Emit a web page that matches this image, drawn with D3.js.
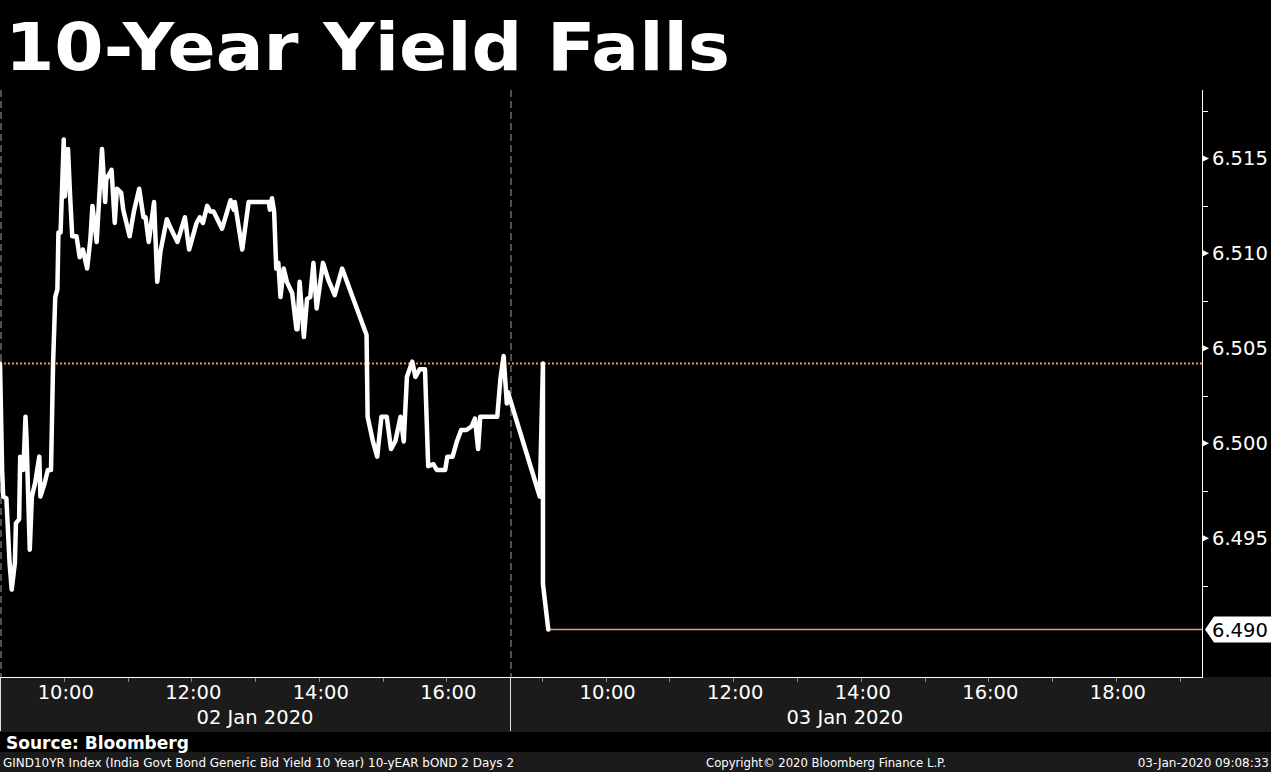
<!DOCTYPE html>
<html>
<head>
<meta charset="utf-8">
<script src="https://cdnjs.cloudflare.com/ajax/libs/d3/7.8.5/d3.min.js"></script>
<style>
  body { margin: 0; background: #000; }
  svg { display: block; }
</style>
</head>
<body>
<svg id="chart"></svg>
<script>
// GIND10YR intraday, 02-03 Jan 2020
const day1Times = ["09:00","09:02","09:03","09:06","09:09","09:11","09:14","09:15","09:18","09:19",
  "09:22","09:24","09:25","09:28","09:30","09:33","09:37","09:38","09:42","09:45",
  "09:48","09:50","09:52","09:54","09:55","09:57","10:00","10:01","10:04","10:06",
  "10:08","10:12","10:15","10:18","10:22","10:25","10:27","10:31","10:36","10:39",
  "10:40","10:45","10:48","10:50","10:54","10:56","11:02","11:06","11:11","11:15",
  "11:17","11:20","11:25","11:28","11:31","11:37","11:40","11:47","11:54","11:58",
  "12:05","12:08","12:11","12:15","12:18","12:21","12:29","12:37","12:40","12:41",
  "12:48","12:54","13:13","13:14","13:16","13:18","13:20","13:22","13:24","13:27",
  "13:30","13:35","13:39","13:40","13:42","13:46","13:49","13:52","13:55","13:58",
  "14:04","14:09","14:15","14:22","14:45","14:46","14:51","14:55","14:59","15:04",
  "15:08","15:12","15:17","15:20","15:23","15:28","15:31","15:35","15:40","15:43",
  "15:48","15:51","15:59","16:01","16:06","16:10","16:14","16:19","16:24","16:27",
  "16:30","16:32","16:48","16:51","16:54","16:57","16:58"];
const day1Yields = [6.5042,6.4986,6.4972,6.4971,6.4937,6.4923,6.4937,6.4958,6.4960,6.4993,
  6.4986,6.5014,6.5002,6.4944,6.4972,6.4979,6.4993,6.4972,6.4979,6.4986,
  6.4986,6.5043,6.5077,6.5081,6.5111,6.5111,6.5160,6.5130,6.5155,6.5130,
  6.5109,6.5109,6.5098,6.5102,6.5092,6.5107,6.5125,6.5106,6.5155,6.5127,
  6.5139,6.5144,6.5116,6.5134,6.5132,6.5123,6.5109,6.5122,6.5134,6.5119,
  6.5119,6.5106,6.5127,6.5085,6.5101,6.5118,6.5114,6.5106,6.5119,6.5102,
  6.5116,6.5119,6.5116,6.5125,6.5122,6.5122,6.5113,6.5128,6.5123,6.5127,
  6.5102,6.5127,6.5127,6.5123,6.5129,6.5122,6.5092,6.5095,6.5077,6.5092,
  6.5085,6.5079,6.5060,6.5060,6.5085,6.5056,6.5076,6.5077,6.5095,6.5071,
  6.5095,6.5086,6.5078,6.5092,6.5057,6.5014,6.5001,6.4993,6.5014,6.5014,
  6.4997,6.5001,6.5014,6.5001,6.5035,6.5043,6.5035,6.5039,6.5039,6.4988,
  6.4989,6.4986,6.4986,6.4993,6.4993,6.5001,6.5007,6.5007,6.5009,6.5013,
  6.4997,6.5014,6.5014,6.5034,6.5046,6.5021,6.5027];
const day2Times = ["08:58","09:01","09:01","09:06"];
const day2Yields = [6.4972,6.5042,6.4926,6.4902];

const prevClose = 6.5042;
const lastYield = 6.4902;
const yTicks = [6.495, 6.500, 6.505, 6.510, 6.515];
const yMinor = [6.4925, 6.4975, 6.5025, 6.5075, 6.5125, 6.5175];
const day1Labels = ["10:00","12:00","14:00","16:00"];
const day2Labels = ["10:00","12:00","14:00","16:00","18:00"];
const dateLabels = ["02 Jan 2020", "03 Jan 2020"];

const W = 1271, H = 772;
const plotTop = 90, plotBottom = 677, plotRight = 1202;
const sessionBreak = 510;

const parse = d3.timeParse("%Y-%m-%d %H:%M");
const d1 = t => parse("2020-01-02 " + t);
const d2 = t => parse("2020-01-03 " + t);

const points = day1Times.map((t, i) => ({ t: d1(t), v: day1Yields[i] }))
  .concat(day2Times.map((t, i) => ({ t: d2(t), v: day2Yields[i] })));

const x = d3.scaleTime()
  .domain([d1("09:00"), d1("17:00"), d2("08:30"), d2("19:21")])
  .range([0, sessionBreak, sessionBreak, plotRight]);

const y = d3.scaleLinear()
  .domain([6.4877, 6.5186])
  .range([plotBottom, plotTop]);

const svg = d3.select('#chart')
  .attr('width', W)
  .attr('height', H)
  .style('font-family', '"DejaVu Sans", sans-serif');

svg.append('rect').attr('width', W).attr('height', H).attr('fill', '#000');

// title
svg.append('text')
  .attr('x', 5).attr('y', 70)
  .attr('fill', '#fff')
  .attr('font-size', 66)
  .attr('font-weight', 'bold')
  .attr('textLength', 725)
  .attr('lengthAdjust', 'spacingAndGlyphs')
  .text('10-Year Yield Falls');

// bottom bands
svg.append('rect').attr('x', 0).attr('y', plotBottom).attr('width', W).attr('height', 55).attr('fill', '#1b1b1b');
svg.append('rect').attr('x', 0).attr('y', 752).attr('width', W).attr('height', 20).attr('fill', '#1b1b1b');

// session dividers
svg.selectAll('.sess')
  .data([d1("09:00"), d1("17:00")])
  .enter().append('line')
  .attr('x1', d => x(d) + 1).attr('x2', d => x(d) + 1)
  .attr('y1', plotTop).attr('y2', plotBottom)
  .attr('stroke', '#a0a0a0')
  .attr('stroke-width', 1)
  .attr('stroke-dasharray', '7,4');

// previous close, dotted
svg.append('line')
  .attr('x1', 0).attr('x2', plotRight)
  .attr('y1', y(prevClose)).attr('y2', y(prevClose))
  .attr('stroke', '#e39a5c')
  .attr('stroke-width', 2)
  .attr('stroke-dasharray', '2,2');

// last value line
const lastPt = points[points.length - 1];
svg.append('line')
  .attr('x1', x(lastPt.t)).attr('x2', plotRight)
  .attr('y1', y(lastYield)).attr('y2', y(lastYield))
  .attr('stroke', '#e8a070')
  .attr('stroke-width', 1.5);

// the yield line
const line = d3.line()
  .x(d => x(d.t))
  .y(d => y(d.v));

svg.append('path')
  .datum(points)
  .attr('d', line)
  .attr('fill', 'none')
  .attr('stroke', '#fff')
  .attr('stroke-width', 4.5)
  .attr('stroke-linejoin', 'round')
  .attr('stroke-linecap', 'round');

// y axis (right)
svg.append('line')
  .attr('x1', plotRight + 0.5).attr('x2', plotRight + 0.5)
  .attr('y1', plotTop).attr('y2', plotBottom)
  .attr('stroke', '#fff');

svg.selectAll('.ymin')
  .data(yMinor.filter(v => y(v) > plotTop && y(v) < plotBottom))
  .enter().append('line')
  .attr('x1', plotRight).attr('x2', plotRight + 6)
  .attr('y1', d => Math.round(y(d)) + 0.5).attr('y2', d => Math.round(y(d)) + 0.5)
  .attr('stroke', '#fff');

svg.selectAll('.ytri')
  .data(yTicks)
  .enter().append('path')
  .attr('transform', d => `translate(${plotRight + 1},${y(d)})`)
  .attr('d', 'M0,-3L6,0L0,3Z')
  .attr('fill', '#fff');

svg.selectAll('.ylab')
  .data(yTicks)
  .enter().append('text')
  .attr('x', 1212).attr('y', d => y(d))
  .attr('dy', '0.36em')
  .attr('fill', '#fff')
  .attr('font-size', 19.5)
  .text(d => d3.format('.3f')(d));

// last value tag
const ly = y(lastYield);
svg.append('path')
  .attr('d', `M${plotRight + 3},${ly} L${plotRight + 12},${ly - 13} L${W},${ly - 13} L${W},${ly + 13} L${plotRight + 12},${ly + 13} Z`)
  .attr('fill', '#fff');
svg.append('text')
  .attr('x', 1212).attr('y', ly)
  .attr('dy', '0.36em')
  .attr('fill', '#000')
  .attr('font-size', 19.5)
  .text(d3.format('.3f')(lastYield));

// x axis
svg.append('line')
  .attr('x1', 0).attr('x2', plotRight + 1)
  .attr('y1', plotBottom + 0.5).attr('y2', plotBottom + 0.5)
  .attr('stroke', '#fff');

const hourTicks = d3.range(10, 17).map(h => d1(d3.format('02d')(h) + ':00'))
  .concat(d3.range(9, 20).map(h => d2(d3.format('02d')(h) + ':00')));

svg.selectAll('.xtick')
  .data(hourTicks)
  .enter().append('line')
  .attr('x1', d => Math.round(x(d)) + 0.5).attr('x2', d => Math.round(x(d)) + 0.5)
  .attr('y1', plotBottom + 1).attr('y2', plotBottom + 5)
  .attr('stroke', '#888');

// day separators in axis band
svg.selectAll('.xsep')
  .data([d1("09:00"), d1("17:00")])
  .enter().append('line')
  .attr('x1', d => x(d) + 0.5).attr('x2', d => x(d) + 0.5)
  .attr('y1', plotBottom).attr('y2', 731)
  .attr('stroke', '#ddd');

const hourLabels = day1Labels.map(t => ({ t: d1(t), s: t }))
  .concat(day2Labels.map(t => ({ t: d2(t), s: t })));

svg.selectAll('.xlab')
  .data(hourLabels)
  .enter().append('text')
  .attr('x', d => x(d.t) + 2).attr('y', 699)
  .attr('text-anchor', 'middle')
  .attr('fill', '#fff')
  .attr('font-size', 19.5)
  .text(d => d.s);

const datePos = [
  (x(d1("09:00")) + x(d1("17:00"))) / 2,
  (x(d2("08:30")) + x(d2("19:00"))) / 2
];
svg.selectAll('.dlab')
  .data(dateLabels)
  .enter().append('text')
  .attr('x', (d, i) => datePos[i]).attr('y', 724)
  .attr('text-anchor', 'middle')
  .attr('fill', '#fff')
  .attr('font-size', 19.5)
  .text(d => d);

// footer
svg.append('text')
  .attr('x', 6).attr('y', 749)
  .attr('fill', '#fff')
  .attr('font-size', 17)
  .attr('font-weight', 'bold')
  .text('Source: Bloomberg');

svg.append('text')
  .attr('x', 3).attr('y', 767)
  .attr('fill', '#fff')
  .attr('font-size', 12)
  .attr('textLength', 511)
  .attr('lengthAdjust', 'spacingAndGlyphs')
  .text('GIND10YR Index (India Govt Bond Generic Bid Yield 10 Year) 10-yEAR bOND 2 Days 2');

svg.append('text')
  .attr('x', 706).attr('y', 767)
  .attr('fill', '#fff')
  .attr('font-size', 12)
  .attr('textLength', 240)
  .attr('lengthAdjust', 'spacingAndGlyphs')
  .text('Copyright\u00a9 2020 Bloomberg Finance L.P.');

svg.append('text')
  .attr('x', 1269).attr('y', 767)
  .attr('text-anchor', 'end')
  .attr('fill', '#fff')
  .attr('font-size', 12)
  .text('03-Jan-2020 09:08:33');
</script>
</body>
</html>
